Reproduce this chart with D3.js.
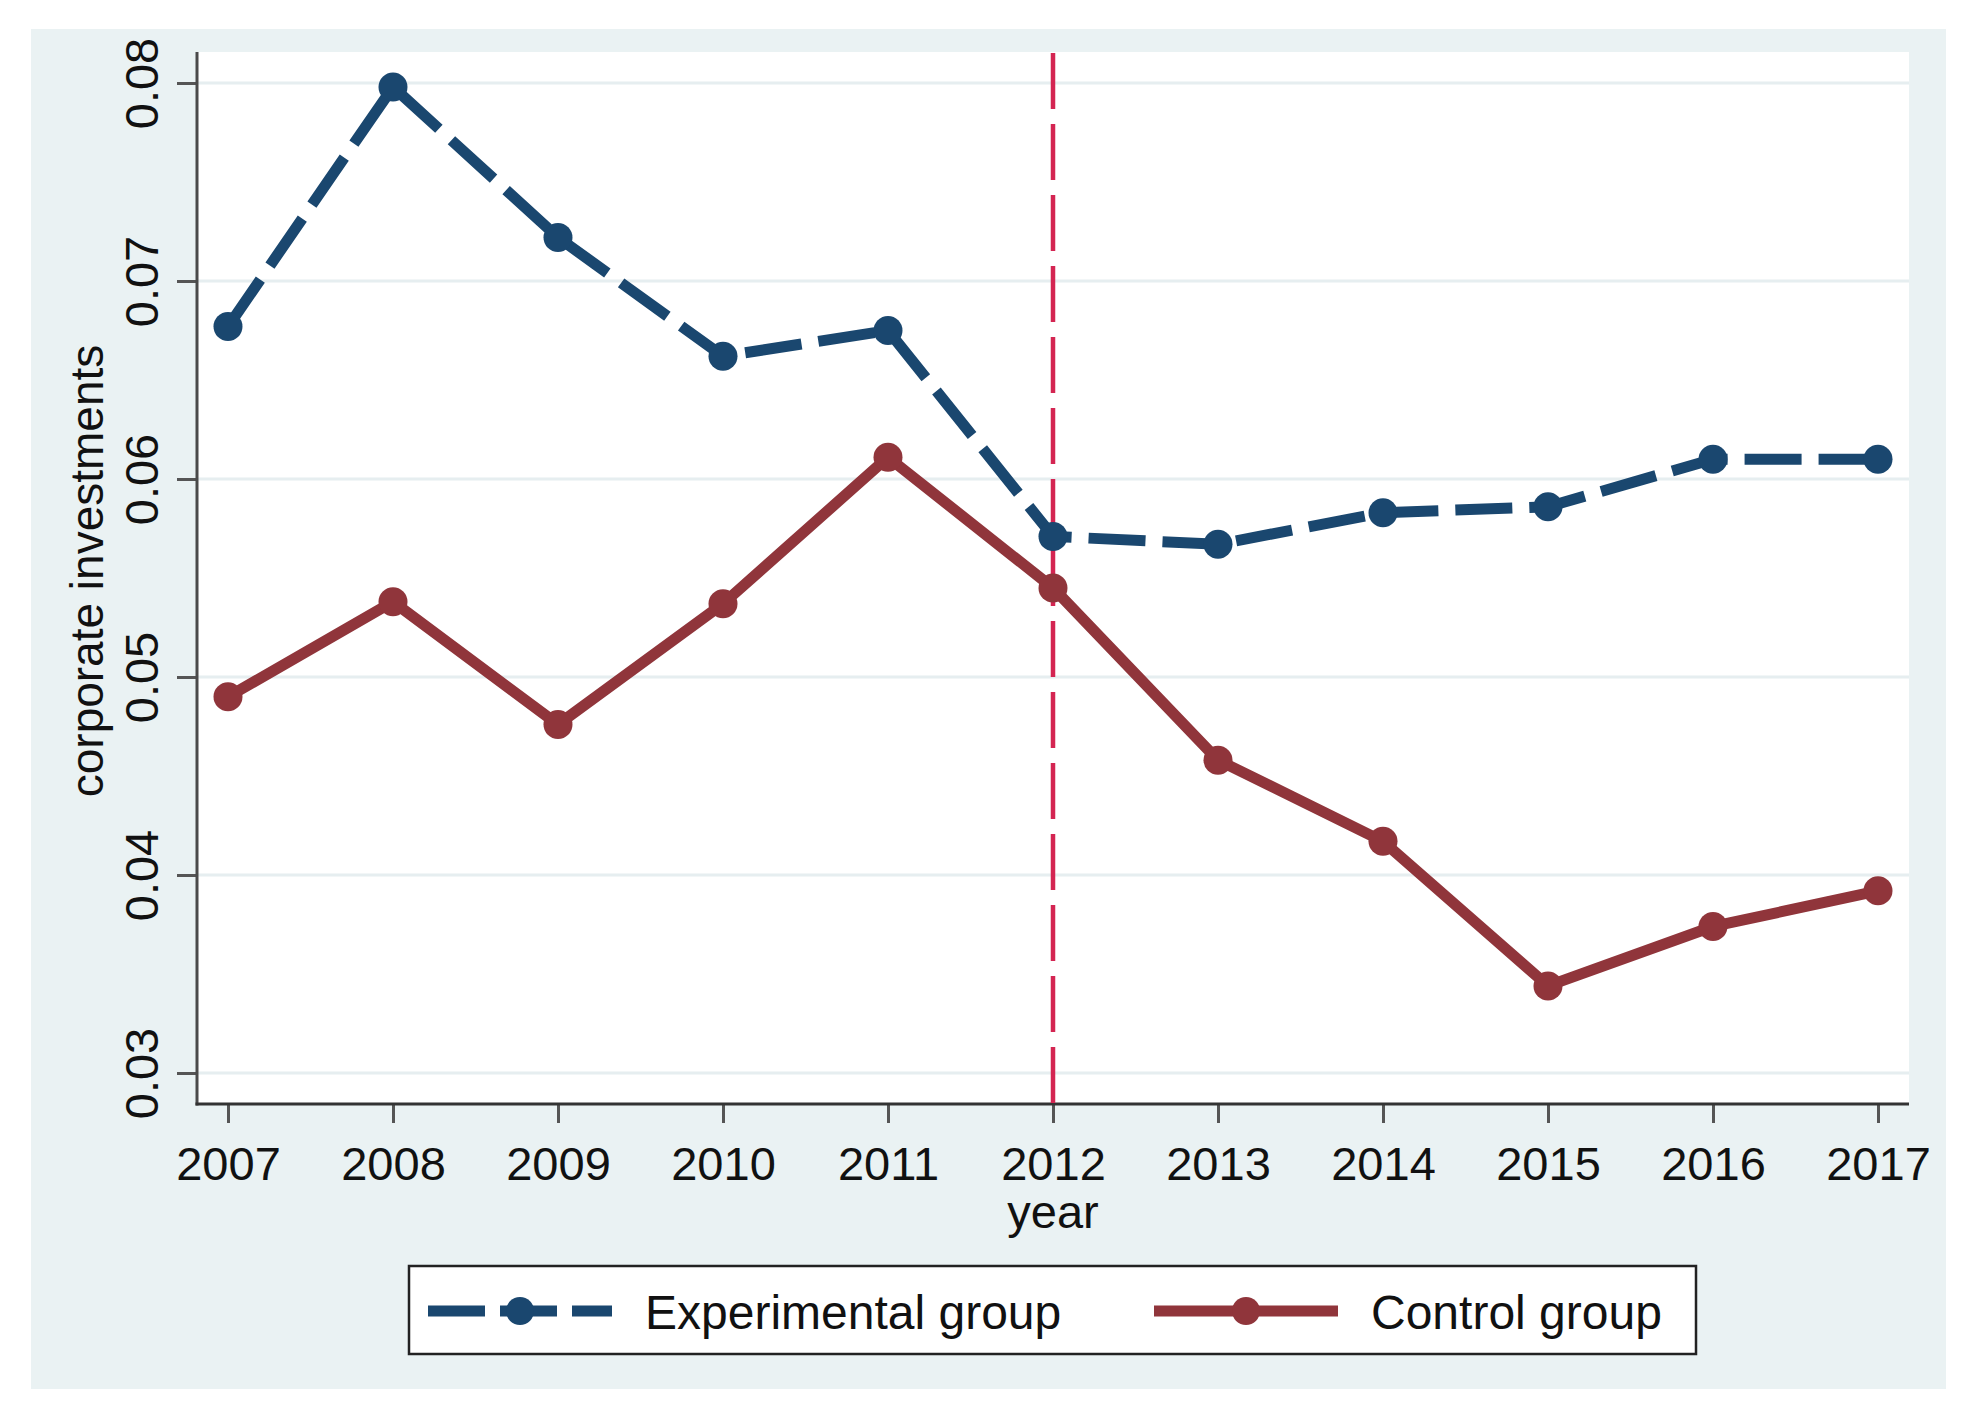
<!DOCTYPE html>
<html>
<head>
<meta charset="utf-8">
<script src="https://cdn.jsdelivr.net/npm/d3@7"></script>
<style>
  html, body { margin: 0; padding: 0; background: #ffffff; }
  svg { display: block; }
  text { font-family: "Liberation Sans", Arial, Helvetica, sans-serif; fill: #111; }
</style>
</head>
<body>
<svg id="chart" width="1972" height="1416"></svg>
<script>
// ---- data ----
const years = [2007, 2008, 2009, 2010, 2011, 2012, 2013, 2014, 2015, 2016, 2017];
const experimental = [0.0677, 0.0798, 0.0722, 0.0662, 0.0675, 0.0571, 0.0567, 0.0583, 0.0586, 0.0610, 0.0610];
const control = [0.0490, 0.0538, 0.0476, 0.0537, 0.0611, 0.0545, 0.0458, 0.0417, 0.0344, 0.0374, 0.0392];
const yTicks = [0.03, 0.04, 0.05, 0.06, 0.07, 0.08];
const yTickLabels = ["0.03", "0.04", "0.05", "0.06", "0.07", "0.08"];
const policyYear = 2012;
const seriesNames = ["Experimental group", "Control group"];
const xTitle = "year";
const yTitle = "corporate investments";

// ---- layout ----
const W = 1972, H = 1416;
const bg = { x: 31, y: 29, w: 1946 - 31, h: 1389 - 29 };
const plot = { left: 197, top: 52, right: 1909, bottom: 1104 };
const navy = "#1a476f", maroon = "#90353b", vred = "#d42552";

const svg = d3.select("#chart");

svg.append("rect").attr("x", bg.x).attr("y", bg.y).attr("width", bg.w).attr("height", bg.h)
  .attr("fill", "#eaf2f3");
svg.append("rect").attr("x", plot.left).attr("y", plot.top)
  .attr("width", plot.right - plot.left).attr("height", plot.bottom - plot.top)
  .attr("fill", "#ffffff");

const x = d3.scaleLinear().domain([2007, 2017]).range([228, 1878]);
const y = d3.scaleLinear().domain([0.03, 0.08]).range([1073, 83]);

// gridlines
svg.append("g").selectAll("line").data(yTicks).join("line")
  .attr("x1", plot.left).attr("x2", plot.right)
  .attr("y1", d => y(d)).attr("y2", d => y(d))
  .attr("stroke", "#e6eef0").attr("stroke-width", 3);

// y axis
const yAxis = d3.axisLeft(y).tickValues(yTicks).tickSize(20).tickSizeOuter(0)
  .tickFormat((d, i) => yTickLabels[i]);
const gy = svg.append("g").attr("transform", `translate(${plot.left},0)`).call(yAxis);
gy.select(".domain").remove();
gy.selectAll(".tick line").attr("stroke", "#555").attr("stroke-width", 3);
gy.selectAll(".tick text")
  .attr("transform", "rotate(-90)")
  .attr("x", 0).attr("y", -39).attr("dy", 0)
  .attr("text-anchor", "middle")
  .style("font-size", "47px").style("fill", "#111");

// x axis
const xAxis = d3.axisBottom(x).tickValues(years).tickSize(19).tickSizeOuter(0)
  .tickFormat(d3.format("d"));
const gx = svg.append("g").attr("transform", `translate(0,${plot.bottom})`).call(xAxis);
gx.select(".domain").remove();
gx.selectAll(".tick line").attr("stroke", "#555").attr("stroke-width", 3);
gx.selectAll(".tick text")
  .attr("y", 76).attr("dy", 0)
  .style("font-size", "47px").style("fill", "#111");

// axis lines
svg.append("line").attr("x1", plot.left).attr("x2", plot.left)
  .attr("y1", plot.top).attr("y2", plot.bottom + 1.5)
  .attr("stroke", "#4a4a4a").attr("stroke-width", 3);
svg.append("line").attr("x1", plot.left - 1.5).attr("x2", plot.right)
  .attr("y1", plot.bottom).attr("y2", plot.bottom)
  .attr("stroke", "#333").attr("stroke-width", 3);

// axis titles
svg.append("text").attr("x", x(2012)).attr("y", 1228)
  .attr("text-anchor", "middle").style("font-size", "47px").text(xTitle);
svg.append("text")
  .attr("transform", `translate(103,${(plot.top + plot.bottom) / 2 - 7}) rotate(-90)`)
  .attr("text-anchor", "middle").style("font-size", "46px").text(yTitle);

// vertical reference line
svg.append("line")
  .attr("x1", x(policyYear)).attr("x2", x(policyYear))
  .attr("y1", plot.top + 1).attr("y2", plot.bottom - 1)
  .attr("stroke", vred).attr("stroke-width", 4.5)
  .attr("stroke-dasharray", "56,15");

const line = d3.line().x((d, i) => x(years[i])).y(d => y(d));

// control series
svg.append("path").datum(control).attr("d", line)
  .attr("fill", "none").attr("stroke", maroon).attr("stroke-width", 11)
  .attr("stroke-linejoin", "round");
svg.append("g").selectAll("circle").data(control).join("circle")
  .attr("cx", (d, i) => x(years[i])).attr("cy", d => y(d)).attr("r", 14.5)
  .attr("fill", maroon);

// experimental series
svg.append("path").datum(experimental).attr("d", line)
  .attr("fill", "none").attr("stroke", navy).attr("stroke-width", 11)
  .attr("stroke-dasharray", "57,17");
svg.append("g").selectAll("circle").data(experimental).join("circle")
  .attr("cx", (d, i) => x(years[i])).attr("cy", d => y(d)).attr("r", 14.5)
  .attr("fill", navy);

// legend
const leg = svg.append("g");
leg.append("rect").attr("x", 409).attr("y", 1266).attr("width", 1696 - 409).attr("height", 1354 - 1266)
  .attr("fill", "#fff").attr("stroke", "#222").attr("stroke-width", 2.5);
const legItems = [
  { name: seriesNames[0], color: navy, dash: "57,15", x0: 428, tx: 645 },
  { name: seriesNames[1], color: maroon, dash: null, x0: 1154, tx: 1371 }
];
const ly = 1311;
legItems.forEach(it => {
  leg.append("line").attr("x1", it.x0).attr("x2", it.x0 + 184)
    .attr("y1", ly).attr("y2", ly)
    .attr("stroke", it.color).attr("stroke-width", 11)
    .attr("stroke-dasharray", it.dash);
  leg.append("circle").attr("cx", it.x0 + 92).attr("cy", ly).attr("r", 14)
    .attr("fill", it.color);
  leg.append("text").attr("x", it.tx).attr("y", 1329)
    .style("font-size", "48px").text(it.name);
});
</script>
</body>
</html>
